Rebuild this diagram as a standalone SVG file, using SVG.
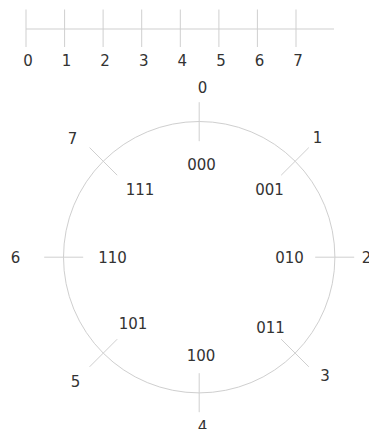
<svg xmlns="http://www.w3.org/2000/svg" width="369" height="429" viewBox="0 0 369 429">
<style>
.ln{stroke:#cfcfcf;stroke-width:1;fill:none}
.t{font-family:"DejaVu Sans",sans-serif;font-size:15px;fill:#333;text-anchor:middle}
</style>
<rect width="369" height="429" fill="#fff"/>
<g id="axis">
<line class="ln" x1="26" y1="29" x2="334" y2="29"/>
<line class="ln" x1="26" y1="9.5" x2="26" y2="47"/>
<line class="ln" x1="64.6" y1="9.5" x2="64.6" y2="47"/>
<line class="ln" x1="103.1" y1="9.5" x2="103.1" y2="47"/>
<line class="ln" x1="141.7" y1="9.5" x2="141.7" y2="47"/>
<line class="ln" x1="180.3" y1="9.5" x2="180.3" y2="47"/>
<line class="ln" x1="218.9" y1="9.5" x2="218.9" y2="47"/>
<line class="ln" x1="257.4" y1="9.5" x2="257.4" y2="47"/>
<line class="ln" x1="296" y1="9.5" x2="296" y2="47"/>
<text class="t" x="28" y="65.5">0</text>
<text class="t" x="66.6" y="65.5">1</text>
<text class="t" x="105.1" y="65.5">2</text>
<text class="t" x="143.7" y="65.5">3</text>
<text class="t" x="182.3" y="65.5">4</text>
<text class="t" x="220.9" y="65.5">5</text>
<text class="t" x="259.4" y="65.5">6</text>
<text class="t" x="298" y="65.5">7</text>
</g>
<g id="ring">
<circle class="ln" cx="199.2" cy="257.2" r="135.7"/>
</g>
<g id="connectors">
<line class="ln" x1="199.2" y1="102.2" x2="199.2" y2="141.2"/>
<line class="ln" x1="281.2" y1="175.2" x2="308.8" y2="147.6"/>
<line class="ln" x1="315.2" y1="257.2" x2="354.2" y2="257.2"/>
<line class="ln" x1="281.2" y1="339.2" x2="308.8" y2="366.8"/>
<line class="ln" x1="199.2" y1="373.2" x2="199.2" y2="412.2"/>
<line class="ln" x1="117.2" y1="339.2" x2="89.6" y2="366.8"/>
<line class="ln" x1="44.2" y1="257.2" x2="83.2" y2="257.2"/>
<line class="ln" x1="117.2" y1="175.2" x2="89.6" y2="147.6"/>
</g>
<g id="n0"><text class="t" x="202.5" y="93">0</text><text class="t" x="201.5" y="169.5">000</text></g>
<g id="n1"><text class="t" x="317.5" y="142.5">1</text><text class="t" x="269.5" y="194.5">001</text></g>
<g id="n2"><text class="t" x="366.5" y="262.7">2</text><text class="t" x="289.5" y="262.7">010</text></g>
<g id="n3"><text class="t" x="325" y="380.5">3</text><text class="t" x="270.5" y="333">011</text></g>
<g id="n4"><text class="t" x="202.5" y="432">4</text><text class="t" x="201" y="361">100</text></g>
<g id="n5"><text class="t" x="75.5" y="387">5</text><text class="t" x="133" y="328.5">101</text></g>
<g id="n6"><text class="t" x="15.5" y="262.7">6</text><text class="t" x="112.5" y="262.7">110</text></g>
<g id="n7"><text class="t" x="72.5" y="143.5">7</text><text class="t" x="140" y="194.5">111</text></g>
</svg>
